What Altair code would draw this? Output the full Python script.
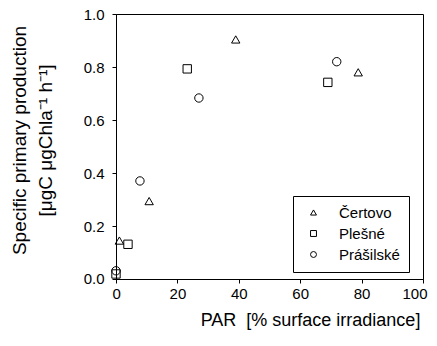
import altair as alt
import pandas as pd

lakes = ["Čertovo", "Plešné", "Prášilské"]
certovo_par = [1.1, 10.8, 39.0, 78.9]
certovo_pp = [0.145, 0.294, 0.904, 0.78]
plesne_par = [0.0, 3.9, 23.2, 69.0]
plesne_pp = [0.019, 0.131, 0.793, 0.742]
prasilske_par = [0.0, 7.8, 27.0, 71.9]
prasilske_pp = [0.031, 0.37, 0.683, 0.82]

rows = []
for lake, xs, ys in [
    (lakes[0], certovo_par, certovo_pp),
    (lakes[1], plesne_par, plesne_pp),
    (lakes[2], prasilske_par, prasilske_pp),
]:
    for x, y in zip(xs, ys):
        rows.append({"lake": lake, "par": x, "pp": y})
df = pd.DataFrame(rows)

FONT = "Liberation Sans"

chart = (
    alt.Chart(df)
    .mark_point(filled=False, color="black", strokeWidth=1, size=70, opacity=1)
    .encode(
        x=alt.X(
            "par:Q",
            scale=alt.Scale(domain=[0, 100], nice=False, zero=False),
            axis=alt.Axis(
                values=[0, 20, 40, 60, 80, 100],
                format="d",
                title="PAR\u00a0\u00a0[% surface irradiance]",
                titleX=194,
                titleY=41,
                titleBaseline="middle",
                labelPadding=3,
                labelFlush=True,
                labelFlushOffset=4,
            ),
        ),
        y=alt.Y(
            "pp:Q",
            scale=alt.Scale(domain=[0, 1], nice=False, zero=False),
            axis=alt.Axis(
                values=[0, 0.2, 0.4, 0.6, 0.8, 1.0],
                format=".1f",
                title=["Specific primary production", "[μgC μgChla⁻¹ h⁻¹]"],
                titleX=-87,
                titleY=126,
                titleFontSize=19,
                titleLineHeight=26,
                labelPadding=8,
                labelFlush=True,
                labelFlushOffset=7,
            ),
        ),
        shape=alt.Shape(
            "lake:N",
            scale=alt.Scale(domain=lakes, range=["triangle-up", "square", "circle"]),
            legend=alt.Legend(
                title=None,
                orient="none",
                legendX=177,
                legendY=182,
                strokeColor="black",
                padding=9,
                symbolSize=35,
                symbolStrokeColor="black",
                symbolFillColor="transparent",
                symbolStrokeWidth=1,
                labelFontSize=15,
                labelFont=FONT,
                labelColor="black",
                labelOffset=18,
                rowPadding=5,
                symbolOffset=4,
            ),
        ),
    )
    .properties(
        width=307,
        height=265,
        padding={"left": 108, "top": 6, "right": 5, "bottom": 60},
        autosize="none",
    )
    .configure_view(stroke="black", strokeWidth=1)
    .configure_axis(
        domainColor="black",
        tickColor="black",
        tickSize=4,
        grid=False,
        labelFont=FONT,
        labelFontSize=15,
        labelColor="black",
        titleFont=FONT,
        titleFontSize=18,
        titleFontWeight="normal",
        titleColor="black",
    )
)

chart.save("out.html", embed_options={"renderer": "svg", "actions": False})
